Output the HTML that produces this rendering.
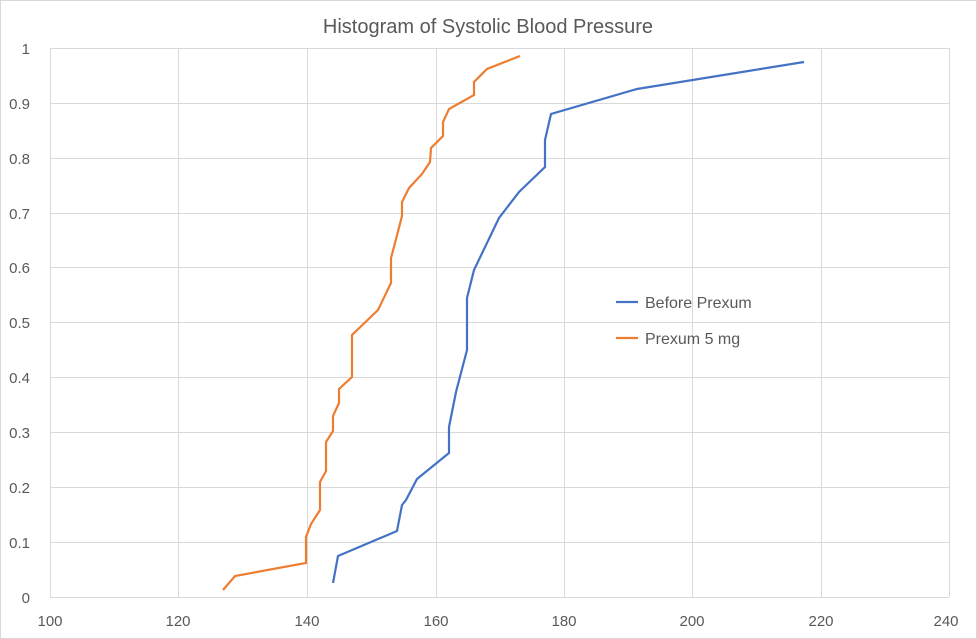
<!DOCTYPE html><html><head><style>body{margin:0;background:#fff}svg{display:block}text{font-family:"Liberation Sans",sans-serif;fill:#595959}</style></head><body>
<svg width="977" height="639" viewBox="0 0 977 639">
<rect x="0.5" y="0.5" width="976" height="638" fill="#fff" stroke="#d9d9d9"/>
<text x="488" y="33" text-anchor="middle" font-size="20">Histogram of Systolic Blood Pressure</text>
<g stroke="#d9d9d9" stroke-width="1">
<line x1="50" y1="48.5" x2="949" y2="48.5"/><line x1="50" y1="103.5" x2="949" y2="103.5"/><line x1="50" y1="158.5" x2="949" y2="158.5"/><line x1="50" y1="213.5" x2="949" y2="213.5"/><line x1="50" y1="267.5" x2="949" y2="267.5"/><line x1="50" y1="322.5" x2="949" y2="322.5"/><line x1="50" y1="377.5" x2="949" y2="377.5"/><line x1="50" y1="432.5" x2="949" y2="432.5"/><line x1="50" y1="487.5" x2="949" y2="487.5"/><line x1="50" y1="542.5" x2="949" y2="542.5"/><line x1="50" y1="597.5" x2="949" y2="597.5"/>
<line x1="50.5" y1="48" x2="50.5" y2="597"/><line x1="178.5" y1="48" x2="178.5" y2="597"/><line x1="307.5" y1="48" x2="307.5" y2="597"/><line x1="436.5" y1="48" x2="436.5" y2="597"/><line x1="564.5" y1="48" x2="564.5" y2="597"/><line x1="692.5" y1="48" x2="692.5" y2="597"/><line x1="821.5" y1="48" x2="821.5" y2="597"/><line x1="949.5" y1="48" x2="949.5" y2="597"/>
</g>
<g font-size="15" text-anchor="end">
<text x="30" y="54">1</text><text x="30" y="109">0.9</text><text x="30" y="164">0.8</text><text x="30" y="219">0.7</text><text x="30" y="273">0.6</text><text x="30" y="328">0.5</text><text x="30" y="383">0.4</text><text x="30" y="438">0.3</text><text x="30" y="493">0.2</text><text x="30" y="548">0.1</text><text x="30" y="603">0</text>
</g>
<g font-size="15" text-anchor="middle">
<text x="50" y="626">100</text><text x="178" y="626">120</text><text x="307" y="626">140</text><text x="436" y="626">160</text><text x="564" y="626">180</text><text x="692" y="626">200</text><text x="821" y="626">220</text><text x="946" y="626">240</text>
</g>
<polyline fill="none" stroke="#4472c4" stroke-width="2.2" points="333,583 338,556 397,531 402,505 406,500 417,479 449,453 449,427 456,392 467,350 467,298 474,270 499,218 519,192 545,167 545,140 551,114 637,89 804,62"/>
<polyline fill="none" stroke="#ed7d31" stroke-width="2.2" points="223,590 235,576 306,563 306,537 311,524 320,510 320,482 326,471 326,442 333,431 333,416 339,403 339,389 352,377 352,335 378,310 391,283 391,258 395,243 402,216 402,202 409,188 422,174 430,162 431,148 443,136 443,122 449,109 474,95 474,82 487,69 520,56"/>
<line x1="616" y1="302" x2="638" y2="302" stroke="#4472c4" stroke-width="2.2"/>
<text x="645" y="308" font-size="16">Before Prexum</text>
<line x1="616" y1="338" x2="638" y2="338" stroke="#ed7d31" stroke-width="2.2"/>
<text x="645" y="344" font-size="16">Prexum 5 mg</text>
</svg>
</body></html>
